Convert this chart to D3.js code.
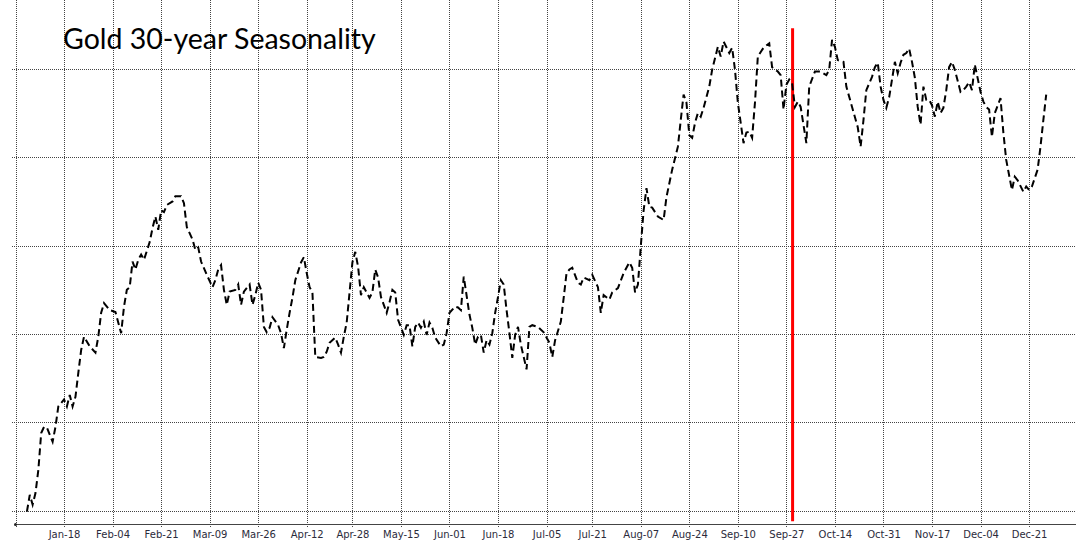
<!DOCTYPE html>
<html>
<head>
<meta charset="utf-8">
<script src="https://cdn.jsdelivr.net/npm/d3@7"></script>
<style>
  html, body { margin: 0; padding: 0; background: #fff; }
  svg { display: block; }
</style>
</head>
<body>
<svg id="chart"></svg>
<script>
var width = 1076,
    height = 549;

// 30-year average cumulative move, % (day offset from Jan 1, value)
var seasonality = [
  [4,-0.01],[5,0.18],[6,0.07],[7,0.20],[8,0.46],[9,0.88],[10,0.95],[11,0.94],[13,0.78],[14,0.95],
  [15,1.18],[17,1.26],[18,1.18],[19,1.31],[20,1.18],[21,1.29],[22,1.56],[23,1.82],[24,1.97],[26,1.86],
  [28,1.79],[29,1.97],[30,2.24],[31,2.35],[33,2.27],[35,2.25],[37,2.01],[38,2.31],[39,2.50],[40,2.53],
  [41,2.82],[42,2.73],[43,2.84],[44,2.90],[45,2.84],[47,3.04],[48,3.20],[49,3.33],[50,3.18],[51,3.40],
  [52,3.38],[53,3.46],[55,3.50],[56,3.56],[58,3.56],[59,3.48],[60,3.21],[62,3.07],[63,2.95],[64,2.98],
  [65,2.82],[67,2.67],[69,2.53],[70,2.61],[71,2.73],[72,2.78],[73,2.50],[74,2.33],[75,2.48],[77,2.50],
  [78,2.56],[79,2.33],[80,2.48],[82,2.56],[83,2.33],[84,2.44],[85,2.58],[86,2.50],[87,2.08],[88,2.02],
  [89,2.07],[90,2.19],[92,2.10],[93,2.01],[94,1.84],[95,2.05],[96,2.24],[97,2.41],[98,2.61],[100,2.81],
  [101,2.87],[102,2.69],[103,2.53],[104,2.47],[105,1.74],[107,1.73],[108,1.74],[109,1.80],[110,1.90],[112,1.96],
  [113,1.88],[114,1.79],[115,1.97],[116,2.13],[117,2.47],[118,2.81],[119,2.93],[120,2.76],[121,2.44],[122,2.53],
  [123,2.47],[124,2.41],[125,2.47],[126,2.73],[127,2.64],[128,2.42],[130,2.24],[131,2.36],[132,2.50],[133,2.47],
  [134,2.16],[136,1.99],[137,2.10],[138,2.10],[139,1.86],[140,2.08],[141,2.13],[142,2.07],[143,2.14],[144,1.99],
  [145,2.13],[146,2.07],[147,1.96],[149,1.86],[150,1.88],[151,2.01],[152,2.24],[154,2.31],[155,2.30],[156,2.27],
  [157,2.65],[159,2.22],[160,2.07],[161,1.88],[162,1.97],[163,1.99],[164,1.79],[165,1.93],[166,1.88],[167,2.01],
  [168,2.24],[169,2.42],[170,2.61],[171,2.56],[172,2.27],[173,2.01],[174,1.73],[175,1.99],[176,2.08],[177,1.88],
  [178,1.74],[179,1.60],[180,2.08],[181,2.10],[183,2.08],[185,2.02],[187,1.90],[188,1.74],[189,1.93],[191,2.14],
  [192,2.41],[193,2.69],[194,2.73],[195,2.75],[197,2.58],[198,2.56],[199,2.64],[201,2.61],[202,2.67],[204,2.53],
  [205,2.24],[206,2.44],[208,2.39],[209,2.47],[211,2.52],[213,2.69],[215,2.81],[216,2.75],[217,2.47],[218,2.56],
  [219,2.99],[220,3.40],[221,3.65],[222,3.44],[223,3.43],[225,3.33],[227,3.29],[228,3.55],[230,3.86],[232,4.12],
  [233,4.42],[234,4.71],[235,4.62],[236,4.25],[237,4.22],[238,4.39],[239,4.50],[240,4.46],[241,4.56],[243,4.80],
  [244,4.99],[246,5.25],[247,5.14],[248,5.31],[250,5.18],[251,5.24],[252,4.99],[253,4.62],[255,4.16],[256,4.28],
  [257,4.29],[258,4.22],[259,4.62],[260,5.14],[262,5.24],[264,5.29],[265,5.02],[267,4.97],[268,4.93],[269,4.54],
  [270,4.82],[271,4.88],[272,4.84],[273,4.57],[274,4.63],[275,4.57],[277,4.16],[278,4.80],[280,4.97],[282,4.97],
  [284,4.93],[285,4.99],[286,5.33],[287,5.25],[288,5.10],[290,5.08],[291,4.80],[293,4.57],[295,4.34],[296,4.12],
  [297,4.42],[298,4.76],[300,4.91],[301,5.02],[302,5.07],[303,4.80],[304,4.65],[305,4.56],[306,4.68],[307,4.88],
  [308,5.08],[309,4.95],[310,5.07],[311,5.16],[312,5.18],[313,5.23],[314,5.08],[315,4.90],[316,4.57],[317,4.37],
  [318,4.80],[319,4.65],[320,4.65],[321,4.59],[322,4.46],[323,4.63],[324,4.50],[325,4.56],[326,4.76],[327,5.02],
  [328,5.08],[329,4.99],[331,4.74],[332,4.76],[333,4.80],[334,4.85],[335,4.76],[336,5.05],[338,4.74],[339,4.63],
  [340,4.57],[341,4.54],[342,4.23],[343,4.50],[345,4.67],[346,4.28],[347,3.97],[349,3.63],[350,3.78],[351,3.74],
  [353,3.61],[354,3.67],[355,3.63],[356,3.67],[358,3.86],[359,4.12],[360,4.42],[361,4.71]
];

var tickDates = ['2020-01-18','2020-02-04','2020-02-21','2020-03-09','2020-03-26','2020-04-12','2020-04-28',
                 '2020-05-15','2020-06-01','2020-06-18','2020-07-05','2020-07-21','2020-08-07','2020-08-24',
                 '2020-09-10','2020-09-27','2020-10-14','2020-10-31','2020-11-17','2020-12-04','2020-12-21'];
var tickLabels = ['Jan-18','Feb-04','Feb-21','Mar-09','Mar-26','Apr-12','Apr-28','May-15','Jun-01','Jun-18',
                  'Jul-05','Jul-21','Aug-07','Aug-24','Sep-10','Sep-27','Oct-14','Oct-31','Nov-17','Dec-04','Dec-21'];
var yGrid = [0, 1, 2, 3, 4, 5];
var markerDate = '2020-09-29';
var markerRange = [-0.12, 5.46];
var title = 'Gold 30-year Seasonality';

var parse = d3.timeParse('%Y-%m-%d');
var start = new Date(2020, 0, 1);

var x = d3.scaleTime()
    .domain([start, d3.timeDay.offset(start, 372)])
    .range([15.5, 1077.6]);
var y = d3.scaleLinear()
    .domain([-0.15, 5.78])
    .range([524, 0]);

var svg = d3.select('#chart')
    .attr('width', width)
    .attr('height', height);

svg.append('rect').attr('width', width).attr('height', height).attr('fill', '#fff');

// grid
var grid = svg.append('g').attr('stroke', '#444').attr('stroke-width', 1).attr('stroke-dasharray', '1,1');
grid.selectAll('.hg')
    .data(yGrid)
  .enter().append('line')
    .attr('x1', 12).attr('x2', width)
    .attr('y1', d => Math.round(y(d)) + 0.5)
    .attr('y2', d => Math.round(y(d)) + 0.5);
grid.selectAll('.vg')
    .data([start].concat(tickDates.map(parse)))
  .enter().append('line')
    .attr('x1', d => Math.round(x(d)) + 0.5)
    .attr('x2', d => Math.round(x(d)) + 0.5)
    .attr('y1', 0).attr('y2', 527);

// x axis
var xAxis = d3.axisBottom(x)
    .tickValues(tickDates.map(parse))
    .tickFormat((d, i) => tickLabels[i])
    .tickSize(0)
    .tickPadding(6);
var gx = svg.append('g')
    .attr('transform', 'translate(0,' + (Math.round(y(-0.15)) + 0.5) + ')')
    .call(xAxis);
gx.select('.domain').attr('stroke', '#444').attr('d', 'M15,0H' + width);
gx.selectAll('text')
    .attr('fill', '#2b2b3b')
    .style('font-family', 'DejaVu Sans, sans-serif')
    .style('font-size', '10px');
svg.append('circle').attr('cx', 15.5).attr('cy', y(-0.15) + 0.5).attr('r', 1.5).attr('fill', '#222');

// marker
var md = parse(markerDate);
svg.append('line')
    .attr('x1', x(md) + 0.5).attr('x2', x(md) + 0.5)
    .attr('y1', y(markerRange[1])).attr('y2', y(markerRange[0]))
    .attr('stroke', '#ff0000')
    .attr('stroke-width', 3);

// seasonality line
var line = d3.line()
    .x(d => x(d3.timeDay.offset(start, d[0])))
    .y(d => y(d[1]));
svg.append('path')
    .datum(seasonality)
    .attr('d', line)
    .attr('fill', 'none')
    .attr('stroke', '#000')
    .attr('stroke-width', 2)
    .attr('stroke-dasharray', '7,4');

svg.append('text')
    .attr('x', 63)
    .attr('y', 49)
    .attr('fill', '#000')
    .style('font-family', 'Lato, sans-serif')
    .style('font-size', '28.5px')
    .text(title);
</script>
</body>
</html>
